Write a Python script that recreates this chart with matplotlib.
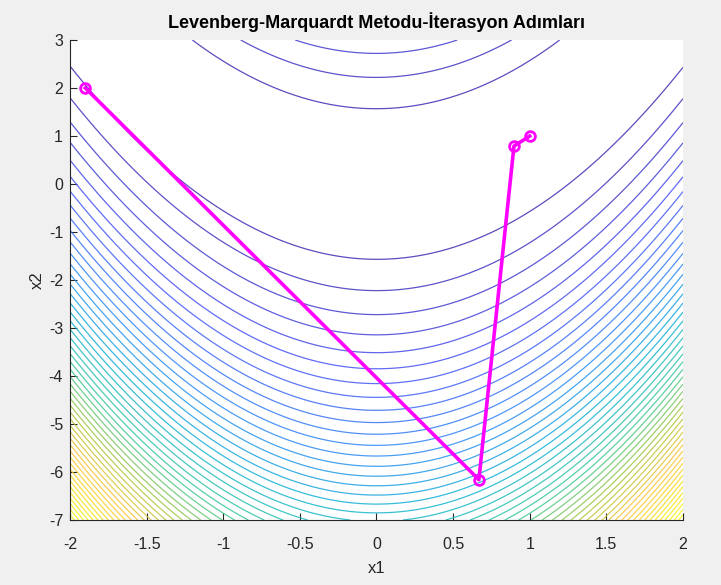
import numpy as np
import matplotlib
matplotlib.use('Agg')
import matplotlib.pyplot as plt
from matplotlib.colors import LinearSegmentedColormap

# LM iterates on the Rosenbrock function
path_x1 = [-1.9, 0.668, 0.897, 1.0]
path_x2 = [2.0, -6.16, 0.79, 1.0]

x1_ticks = [-2, -1.5, -1, -0.5, 0, 0.5, 1, 1.5, 2]
x2_ticks = [-7, -6, -5, -4, -3, -2, -1, 0, 1, 2, 3]
n_levels = 50

# parula-like colormap
parula_pts = [(0.2422, 0.1504, 0.6603), (0.2810, 0.3228, 0.9579),
              (0.1786, 0.5289, 0.9682), (0.0689, 0.6948, 0.8394),
              (0.2161, 0.7843, 0.5923), (0.6720, 0.7793, 0.2227),
              (0.9970, 0.7659, 0.2199), (0.9598, 0.8870, 0.1151),
              (0.9769, 0.9839, 0.0805)]
parula = LinearSegmentedColormap.from_list('parula', parula_pts)


def rosenbrock(a, b):
    return 100 * (b - a ** 2) ** 2 + (1 - a) ** 2


plt.rcParams['font.family'] = ['Liberation Sans', 'DejaVu Sans']

fig = plt.figure(figsize=(7.21, 5.85), dpi=100, facecolor='#f0f0f0')
ax = fig.add_axes([70 / 721, 65 / 585, 613 / 721, 480 / 585])

X1, X2 = np.meshgrid(np.linspace(-2, 2, 201), np.linspace(-7, 3, 401))
Z = rosenbrock(X1, X2)
levels = np.linspace(Z.min(), Z.max(), n_levels)
ax.contour(X1, X2, Z, levels=levels, cmap=parula, vmin=Z.min(), vmax=Z.max(),
           linewidths=0.9, alpha=0.85)

ax.plot(path_x1, path_x2, '-o', color='#ff00ff', linewidth=2.6, markersize=7,
        markerfacecolor='none', markeredgewidth=2)

ax.set_xlim(-2, 2)
ax.set_ylim(-7, 3)
ax.set_xticks(x1_ticks)
ax.set_xticklabels(['-2', '-1.5', '-1', '-0.5', '0', '0.5', '1', '1.5', '2'])
ax.set_yticks(x2_ticks)
ax.set_yticklabels([str(t) for t in x2_ticks])
ax.tick_params(direction='in', length=5, labelsize=11.5, colors='#262626')
ax.tick_params(axis='x', pad=12)
ax.tick_params(axis='y', pad=5)
for side in ['top', 'right']:
    ax.spines[side].set_visible(False)
for side in ['left', 'bottom']:
    ax.spines[side].set_color('#262626')
ax.set_xlabel('x1', fontsize=12, color='#262626', labelpad=7)
ax.set_ylabel('x2', fontsize=12, color='#262626', labelpad=3)
ax.set_title('Levenberg-Marquardt Metodu-İterasyon Adımları', fontsize=13,
             fontweight='bold', pad=9)

plt.savefig('out.png', dpi=100, facecolor=fig.get_facecolor())
